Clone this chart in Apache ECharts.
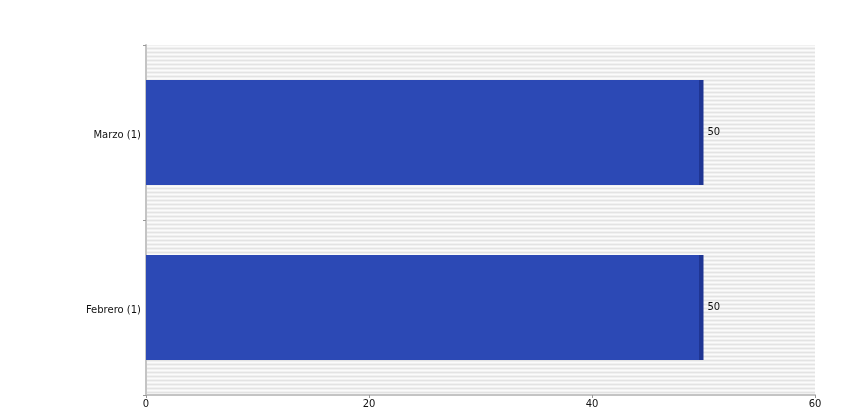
<!DOCTYPE html>
<html>
<head>
<meta charset="utf-8">
<script src="https://cdn.jsdelivr.net/npm/echarts@6/dist/echarts.min.js"></script>
<style>html,body{margin:0;padding:0;background:#fff}#c{width:850px;height:420px}</style>
</head>
<body>
<div id="c"></div>
<script>
const categories = ['Febrero (1)', 'Marzo (1)'];
const values = [50, 50];
const xTicks = [0, 20, 40, 60];

const pc = document.createElement('canvas');
pc.width = 4; pc.height = 4;
const g = pc.getContext('2d');
const rows = ['#e3e3e3', '#f1f1f1', '#fbfbfb', '#f1f1f1'];
rows.forEach((c, i) => { g.fillStyle = c; g.fillRect(0, i, 4, 1); });

const chart = echarts.init(document.getElementById('c'), null, {renderer: 'canvas'});
chart.setOption({
  animation: false,
  grid: {left: 146, right: 35, top: 45, bottom: 25, show: true, borderWidth: 0,
    backgroundColor: {image: pc, repeat: 'repeat'}},
  xAxis: {
    type: 'value', min: xTicks[0], max: xTicks[xTicks.length - 1], interval: 20,
    axisLine: {show: true, lineStyle: {color: '#c4c4c4', width: 2}},
    axisTick: {show: true, length: 3, lineStyle: {color: '#999'}},
    axisLabel: {color: '#111', fontSize: 10, fontFamily: 'DejaVu Sans', margin: 4},
    splitLine: {show: false}
  },
  yAxis: {
    type: 'category', data: categories,
    axisLine: {show: true, lineStyle: {color: '#c4c4c4', width: 2}},
    axisTick: {show: true, length: 3, lineStyle: {color: '#999'}},
    axisLabel: {color: '#111', fontSize: 10, fontFamily: 'DejaVu Sans', margin: 5,
      formatter: v => '{a|' + v + '}',
      rich: {a: {fontSize: 10, fontFamily: 'DejaVu Sans', color: '#111', padding: [5, 0, 0, 0]}}},
    splitLine: {show: false}
  },
  series: [{
    type: 'bar', data: values, barWidth: '60%',
    itemStyle: {color: {type: 'linear', x: 0, y: 0, x2: 1, y2: 0, colorStops: [
      {offset: 0, color: '#2c49b5'}, {offset: 0.992, color: '#2c49b5'},
      {offset: 0.992, color: '#1f3593'}, {offset: 1, color: '#1f3593'}]}},
    label: {show: true, position: 'right', distance: 4, color: '#111', fontSize: 10, fontFamily: 'DejaVu Sans'}
  }]
});
</script>
</body>
</html>
